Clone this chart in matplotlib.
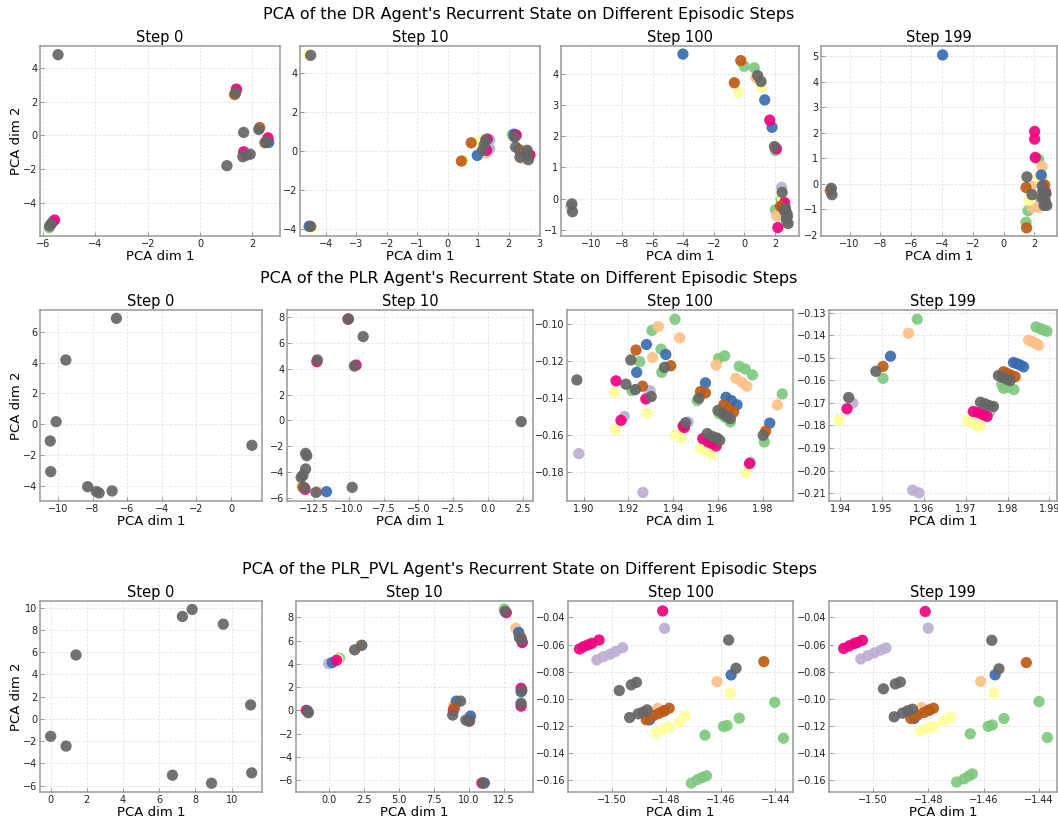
import matplotlib
matplotlib.use('Agg')
import matplotlib.pyplot as plt
import numpy as np

plt.rcParams['font.family'] = 'DejaVu Sans'

# colour index -> Accent colormap (0 green ... 7 grey)
agents = ['DR', 'PLR', 'PLR_PVL']
steps = [0, 10, 100, 199]

# ---------------- DR agent ----------------
dr_0_x = [-5.77, -5.72, -5.65, -5.56, 1.41, 1.31, 2.48, 2.63, 2.28, 1.33, 1.39, 2.60, 1.67,
          -5.43, 1.36, 1.67, 2.25, 2.49, 2.56, 1.64, 1.78, 1.92, 1.03, -5.75, -5.70]
dr_0_y = [-5.43, -5.30, -5.12, -4.98, 2.68, 2.40, -0.45, -0.41, 0.47, 2.42, 2.73, -0.14, -0.96,
          4.76, 2.50, 0.18, 0.35, -0.41, -0.38, -1.25, -1.16, -1.10, -1.78, -5.33, -5.22]
dr_0_c = [0, 3, 4, 5, 1, 2, 2, 4, 6, 6, 5, 5, 5,
          7, 7, 7, 7, 7, 7, 7, 7, 7, 7, 7, 7]

dr_10_x = [2.12, 2.60, 1.38, 1.38, 1.25, 2.45, -4.58, -4.45, 0.50, 1.05, -4.55, 0.97, 2.18,
           1.28, 1.30, 2.25, 2.70, 0.77, 0.45, 2.35,
           -4.50, -4.50, 1.25, 1.14, 1.20, 2.20, 2.23, 2.37, 2.61, 2.65, 2.61]
dr_10_y = [0.82, -0.07, 0.56, 0.10, -0.12, -0.40, 4.92, -3.95, -0.50, 0.50, -3.88, -0.24, 0.85,
           0.02, 0.60, 0.80, -0.22, 0.41, -0.53, 0.05,
           4.90, -3.89, 0.56, 0.02, 0.30, 0.70, 0.19, -0.33, -0.24, -0.46, 0.02]
dr_10_c = [0, 0, 1, 1, 2, 2, 3, 3, 3, 3, 4, 4, 4,
           5, 5, 5, 5, 6, 6, 6,
           7, 7, 7, 7, 7, 7, 7, 7, 7, 7, 7]

dr_100_x = [-0.02, 0.64, 2.02, 2.40, 2.02, 2.75, 2.42, -11.33, 0.75, 2.09, 2.30,
            1.14, -0.40, 2.46, -4.02, 1.32, 1.80, 1.65, 2.09, 2.62, 2.18, 2.50,
            -0.24, -0.66, 2.35,
            0.86, 1.08, 1.96, 2.46, 2.68, 2.78, 2.74, 2.85, 2.60, 2.80, -11.27, -11.23]
dr_100_y = [4.25, 4.20, 1.54, -0.02, -0.36, -0.75, 0.36, -0.25, 3.89, -0.56, -0.45,
            3.57, 3.41, 0.04, 4.64, 3.17, 2.29, 2.52, 1.60, -0.13, -0.93, -0.25,
            4.43, 3.72, -0.25,
            3.95, 3.76, 1.67, 0.20, -0.31, -0.48, -0.64, -0.80, -0.38, -0.58, -0.17, -0.42]
dr_100_c = [0, 0, 0, 0, 0, 0, 1, 1, 2, 2, 2,
            3, 3, 3, 4, 4, 4, 5, 5, 5, 5, 5,
            6, 6, 6,
            7, 7, 7, 7, 7, 7, 7, 7, 7, 7, 7, 7]

dr_199_x = [2.27, 1.58, 1.45, 2.40, 2.45, 2.49, 1.79, 1.84, 2.27, 2.60, 2.27, 1.66, 2.55,
            -3.96, 2.44, 2.55, 2.01, 2.01, 2.05, 2.70, 1.45, 1.49, 2.66, -11.25,
            1.51, 1.84, 2.50, 2.56, 2.64, 2.70, 2.62, 2.80, 2.48, 2.75, -11.18, -11.14]
dr_199_y = [0.96, -1.06, -1.51, -0.60, -0.70, 0.68, -0.10, -0.93, -0.93, -0.55, 0.25, -0.64, 0.20,
            5.05, 0.34, -0.30, 2.05, 1.75, 1.03, -0.30, -0.15, -1.73, -0.05, -0.27,
            0.27, -0.43, -0.08, -0.30, -0.50, -0.68, -0.85, -0.85, -0.55, -0.40, -0.18, -0.43]
dr_199_c = [0, 0, 0, 0, 1, 2, 2, 2, 2, 2, 3, 3, 3,
            4, 4, 4, 5, 5, 5, 5, 6, 6, 6, 6,
            7, 7, 7, 7, 7, 7, 7, 7, 7, 7, 7, 7]

# ---------------- PLR agent ----------------
plr_0_x = [-6.62, -9.54, -10.10, -10.44, -10.41, -8.28, -7.78, -7.62, -6.87, 1.20]
plr_0_y = [6.87, 4.17, 0.17, -1.08, -3.07, -4.04, -4.36, -4.45, -4.32, -1.36]
plr_0_c = [7, 7, 7, 7, 7, 7, 7, 7, 7, 7]

plr_10_x = [-13.35, -12.25, -11.61, -10.06, -12.30, -9.48, -13.15, -13.30,
            -10.03, -8.97, -12.27, -9.60, 2.40, -13.11, -13.03, -13.11, -13.43, -13.30,
            -13.19, -12.37, -9.76]
plr_10_y = [-5.12, -5.53, -5.53, 7.84, 4.55, 4.28, -5.35, -5.18,
            7.86, 6.49, 4.68, 4.21, -0.10, -2.56, -2.74, -3.77, -4.42, -4.25,
            -5.22, -5.58, -5.19]
plr_10_c = [2, 2, 4, 5, 5, 5, 5, 6,
            7, 7, 7, 7, 7, 7, 7, 7, 7, 7, 7, 7, 7]

plr_100_x = [1.9408, 1.9305, 1.9346, 1.9251, 1.9349, 1.9216, 1.9603, 1.9630, 1.9695, 1.9722, 1.9754,
             1.9887, 1.9507, 1.9606, 1.9630, 1.9655, 1.9807,
             1.9297, 1.9182, 1.8979, 1.9265, 1.9467, 1.9745,
             1.9334, 1.9429, 1.9308, 1.9592, 1.9680, 1.9707, 1.9729, 1.9865,
             1.9138, 1.9282, 1.9142, 1.9411, 1.9436, 1.9522, 1.9544, 1.9574, 1.9726,
             1.9281, 1.9367, 1.9237, 1.9544, 1.9636, 1.9660, 1.9685, 1.9831,
             1.9145, 1.9278, 1.9167, 1.9444, 1.9450, 1.9532, 1.9556, 1.9574, 1.9592, 1.9741,
             1.9234, 1.9389, 1.9263, 1.9522, 1.9544, 1.9626, 1.9648, 1.9670, 1.9813,
             1.8970, 1.9211, 1.9361, 1.9189, 1.9231, 1.9302, 1.9515, 1.9600, 1.9621, 1.9640,
             1.9655, 1.9455, 1.9552, 1.9574, 1.9596, 1.9608, 1.9802, 1.9759]
plr_100_y = [-0.0973, -0.1034, -0.1135, -0.1203, -0.1261, -0.1360, -0.1185, -0.1171, -0.1228, -0.1243, -0.1275,
             -0.1378, -0.1414, -0.1485, -0.1503, -0.1530, -0.1638,
             -0.1360, -0.1500, -0.1701, -0.1912, -0.1530, -0.1748,
             -0.1013, -0.1074, -0.1180, -0.1221, -0.1293, -0.1315, -0.1336, -0.1437,
             -0.1369, -0.1482, -0.1570, -0.1599, -0.1617, -0.1674, -0.1689, -0.1707, -0.1804,
             -0.1110, -0.1164, -0.1261, -0.1318, -0.1396, -0.1414, -0.1437, -0.1536,
             -0.1307, -0.1405, -0.1521, -0.1552, -0.1560, -0.1620, -0.1638, -0.1647, -0.1660, -0.1755,
             -0.1140, -0.1225, -0.1336, -0.1365, -0.1372, -0.1437, -0.1458, -0.1476, -0.1579,
             -0.1302, -0.1194, -0.1234, -0.1325, -0.1354, -0.1392, -0.1401, -0.1467, -0.1485, -0.1500,
             -0.1512, -0.1534, -0.1593, -0.1608, -0.1617, -0.1629, -0.1602, -0.1714]
plr_100_c = [0] * 17 + [1] * 6 + [2] * 8 + [3] * 9 + [4] * 8 + [5] * 10 + [6] * 9 + [7] * 17

plr_199_x = [1.9584, 1.9502, 1.9868, 1.9878, 1.9886, 1.9894, 1.9786, 1.9790, 1.9802, 1.9815,
             1.9430, 1.9573, 1.9588, 1.9742, 1.9758,
             1.9563, 1.9850, 1.9858, 1.9866, 1.9874,
             1.9397, 1.9704, 1.9714, 1.9724, 1.9734,
             1.9520, 1.9814, 1.9822, 1.9830, 1.9838,
             1.9416, 1.9718, 1.9730, 1.9742, 1.9751,
             1.9502, 1.9790, 1.9798, 1.9807, 1.9818,
             1.9485, 1.9420, 1.9778, 1.9788, 1.9798, 1.9806, 1.9735, 1.9746, 1.9756, 1.9766]
plr_199_y = [-0.1329, -0.1591, -0.1363, -0.1371, -0.1376, -0.1382, -0.1616, -0.1635, -0.1631, -0.1641,
             -0.1701, -0.2087, -0.2099, -0.1729, -0.1738,
             -0.1391, -0.1422, -0.1428, -0.1435, -0.1444,
             -0.1776, -0.1779, -0.1788, -0.1797, -0.1803,
             -0.1493, -0.1521, -0.1526, -0.1532, -0.1540,
             -0.1726, -0.1738, -0.1744, -0.1753, -0.1760,
             -0.1538, -0.1562, -0.1569, -0.1576, -0.1584,
             -0.1560, -0.1676, -0.1579, -0.1587, -0.1594, -0.1601, -0.1697, -0.1704, -0.1712, -0.1716]
plr_199_c = [0] * 10 + [1] * 5 + [2] * 5 + [3] * 5 + [4] * 5 + [5] * 5 + [6] * 5 + [7] * 10

# ---------------- PLR_PVL agent ----------------
pvl_0_x = [7.82, 7.28, 9.54, 1.40, 11.05, 0.00, 0.85, 6.73, 8.89, 11.11]
pvl_0_y = [9.83, 9.20, 8.51, 5.74, 1.26, -1.56, -2.44, -5.05, -5.77, -4.84]
pvl_0_c = [7, 7, 7, 7, 7, 7, 7, 7, 7, 7]

pvl_10_x = [0.76, 12.51, 13.70, 0.00, 13.80, 2.25, 8.88, 13.32, 0.65, 9.25,
            0.25, 9.09, 10.10, 11.09, 13.53, 13.70,
            -1.60, 0.56, 8.88, 10.00, 10.91, 12.65, 13.78, 13.70, 13.70,
            8.95, 13.70,
            -1.45, -1.50, 1.85, 2.36, 8.83, 9.39, 9.77, 10.03, 11.00, 12.56, 13.58, 13.72, 13.76, 13.70]
pvl_10_y = [4.48, 8.71, 0.65, 4.02, 5.90, 5.55, 0.37, 7.07, 4.40, 0.80,
            4.11, 0.80, -0.49, -6.24, 6.70, 1.60,
            0.00, 4.31, 0.00, -0.92, -6.24, 8.40, 5.83, 1.90, 0.37,
            0.20, 6.26,
            -0.20, -0.05, 5.20, 5.60, -0.40, 0.80, -0.83, -0.92, -6.24, 8.50, 6.26, 6.05, 1.72, 0.57]
pvl_10_c = [0, 0, 0, 1, 1, 2, 2, 2, 3, 3,
            4, 4, 4, 4, 4, 4,
            5, 5, 5, 5, 5, 5, 5, 5, 5,
            6, 6,
            7, 7, 7, 7, 7, 7, 7, 7, 7, 7, 7, 7, 7, 7]

pvl_100_x = [-1.4402, -1.4370, -1.4532, -1.4590, -1.4577, -1.4658, -1.4708, -1.4686, -1.4668, -1.4652,
             -1.4806, -1.5054, -1.5030, -1.5006, -1.4986, -1.4960,
             -1.4614, -1.4831,
             -1.4565, -1.4837, -1.4809, -1.4792, -1.4753, -1.4731,
             -1.4562, -1.4861, -1.4807,
             -1.4813, -1.5118, -1.5103, -1.5087, -1.5072, -1.5046,
             -1.4442, -1.4873, -1.4845, -1.4825, -1.4807, -1.4789,
             -1.4972, -1.4928, -1.4909, -1.4571, -1.4544, -1.4934, -1.4903, -1.4885, -1.4870]
pvl_100_y = [-0.1025, -0.1289, -0.1142, -0.1203, -0.1196, -0.1267, -0.1620, -0.1595, -0.1578, -0.1566,
             -0.0481, -0.0713, -0.0689, -0.0672, -0.0652, -0.0623,
             -0.0873, -0.1069,
             -0.0958, -0.1247, -0.1223, -0.1208, -0.1172, -0.1125,
             -0.0824, -0.1154, -0.1088,
             -0.0353, -0.0633, -0.0616, -0.0603, -0.0591, -0.0567,
             -0.0726, -0.1154, -0.1122, -0.1105, -0.1088, -0.1069,
             -0.0939, -0.0897, -0.0878, -0.0567, -0.0775, -0.1137, -0.1110, -0.1098, -0.1081]
pvl_100_c = [0] * 10 + [1] * 6 + [2] * 2 + [3] * 6 + [4] * 3 + [5] * 6 + [6] * 6 + [7] * 9

pvl_199_x = [-1.4400, -1.4370, -1.4527, -1.4584, -1.4569, -1.4649, -1.4698, -1.4671, -1.4653, -1.4641,
             -1.4801, -1.5045, -1.5020, -1.4996, -1.4972, -1.4954,
             -1.4611, -1.4825,
             -1.4563, -1.4828, -1.4801, -1.4783, -1.4746, -1.4719,
             -1.4559, -1.4852, -1.4798,
             -1.4812, -1.5107, -1.5087, -1.5069, -1.5057, -1.5039,
             -1.4446, -1.4864, -1.4840, -1.4816, -1.4798, -1.4782,
             -1.4963, -1.4920, -1.4902, -1.4571, -1.4545, -1.4924, -1.4894, -1.4876, -1.4858]
pvl_199_y = [-0.1020, -0.1284, -0.1144, -0.1202, -0.1192, -0.1257, -0.1612, -0.1588, -0.1566, -0.1552,
             -0.0480, -0.0707, -0.0682, -0.0661, -0.0641, -0.0625,
             -0.0871, -0.1064,
             -0.0955, -0.1233, -0.1214, -0.1204, -0.1165, -0.1136,
             -0.0823, -0.1144, -0.1083,
             -0.0357, -0.0629, -0.0610, -0.0593, -0.0585, -0.0569,
             -0.0733, -0.1144, -0.1120, -0.1100, -0.1083, -0.1069,
             -0.0926, -0.0890, -0.0876, -0.0569, -0.0779, -0.1132, -0.1105, -0.1088, -0.1076]
pvl_199_c = [0] * 10 + [1] * 6 + [2] * 2 + [3] * 6 + [4] * 3 + [5] * 6 + [6] * 6 + [7] * 9

panels = [
    [(dr_0_x, dr_0_y, dr_0_c), (dr_10_x, dr_10_y, dr_10_c),
     (dr_100_x, dr_100_y, dr_100_c), (dr_199_x, dr_199_y, dr_199_c)],
    [(plr_0_x, plr_0_y, plr_0_c), (plr_10_x, plr_10_y, plr_10_c),
     (plr_100_x, plr_100_y, plr_100_c), (plr_199_x, plr_199_y, plr_199_c)],
    [(pvl_0_x, pvl_0_y, pvl_0_c), (pvl_10_x, pvl_10_y, pvl_10_c),
     (pvl_100_x, pvl_100_y, pvl_100_c), (pvl_199_x, pvl_199_y, pvl_199_c)],
]

limits = [
    [((-6.12, 3.06), (-5.92, 5.27)), ((-4.85, 3.03), (-4.38, 5.38)),
     ((-11.98, 3.56), (-1.20, 4.90)), ((-11.85, 3.46), (-2.05, 5.40))],
    [((-11.03, 1.78), (-4.97, 7.41)), ((-14.45, 3.25), (-6.25, 8.55)),
     ((1.8926, 1.9935), (-0.1958, -0.0923)), ((1.9373, 1.9918), (-0.2135, -0.1288))],
    [((-0.59, 11.68), (-6.56, 10.59)), ((-2.33, 14.55), (-7.01, 9.40)),
     ((-1.516, -1.4335), (-0.1685, -0.0280)), ((-1.516, -1.4335), (-0.1685, -0.0280))],
]

# axes boxes in pixels: (left, right) per column, (top, bottom) per row
W, H = 1058, 821
row_y = [(46, 236), (310, 501), (601, 792)]
col_x = [
    [(40, 280), (300, 540), (561, 799), (821, 1057)],
    [(40, 262), (287, 533), (567, 793), (829, 1057)],
    [(40, 262), (296, 533), (568, 793), (829, 1057)],
]
row_title_y = [15, 278, 570]

fig = plt.figure(figsize=(W / 100, H / 100), dpi=100)

for r, agent in enumerate(agents):
    top, bottom = row_y[r]
    fig.text(0.5, 1 - row_title_y[r] / H,
             f"PCA of the {agent} Agent's Recurrent State on Different Episodic Steps",
             ha='center', va='center', fontsize=11.5)
    for c, step in enumerate(steps):
        left, right = col_x[r][c]
        ax = fig.add_axes([left / W, 1 - bottom / H, (right - left) / W, (bottom - top) / H])
        x, y, lab = panels[r][c]
        x = np.asarray(x)
        y = np.asarray(y)
        lab = np.asarray(lab)
        order = np.argsort(lab, kind='stable')
        ax.scatter(x[order], y[order], c=lab[order], cmap='Accent', vmin=0, vmax=7,
                   s=66, alpha=0.92, edgecolors='none', zorder=3)
        ax.set_xlim(*limits[r][c][0])
        ax.set_ylim(*limits[r][c][1])
        ax.set_title(f'Step {step}', fontsize=10.5, pad=3)
        ax.set_xlabel('PCA dim 1', fontsize=9.5, labelpad=1)
        if c == 0:
            ax.set_ylabel('PCA dim 2', fontsize=9.5, labelpad=0)
        ax.grid(True, color='#e2e2e2', linestyle=(0, (3, 2)), linewidth=0.6, zorder=0)
        ax.tick_params(direction='in', length=3, width=0.6, labelsize=7,
                       colors='#888888', labelcolor='#222222', pad=2)
        for sp in ax.spines.values():
            sp.set_color('#999999')
            sp.set_linewidth(1.1)

fig.savefig('out.png', dpi=100)
